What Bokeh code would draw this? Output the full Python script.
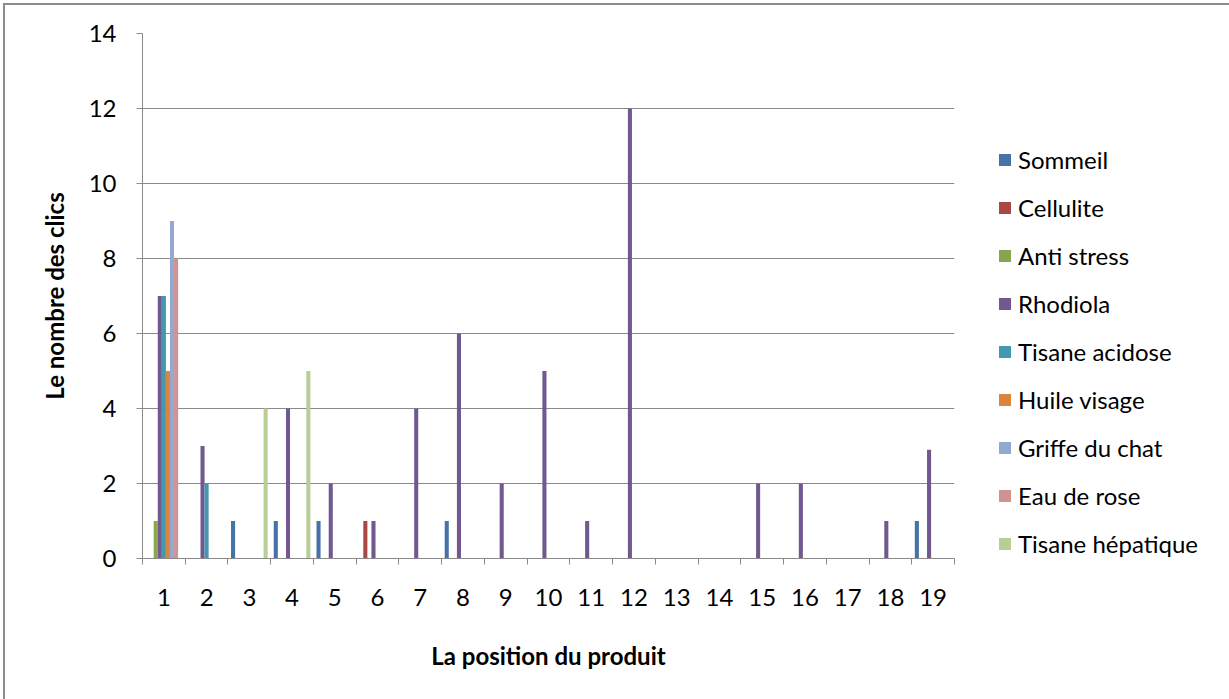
from bokeh.plotting import figure
from bokeh.models import Range1d, FixedTicker, Legend, LegendItem, ColumnDataSource
from bokeh.embed import file_html
from bokeh.resources import INLINE

categories = [str(i) for i in range(1, 20)]
series_names = ["Sommeil", "Cellulite", "Anti stress", "Rhodiola", "Tisane acidose",
                "Huile visage", "Griffe du chat", "Eau de rose", "Tisane hépatique"]
sommeil          = [0, 0, 1, 1, 1, 0, 0, 1, 0, 0, 0, 0, 0, 0, 0, 0, 0, 0, 1]
cellulite        = [0, 0, 0, 0, 0, 1, 0, 0, 0, 0, 0, 0, 0, 0, 0, 0, 0, 0, 0]
anti_stress      = [1, 0, 0, 0, 0, 0, 0, 0, 0, 0, 0, 0, 0, 0, 0, 0, 0, 0, 0]
rhodiola         = [7, 3, 0, 4, 2, 1, 4, 6, 2, 5, 1, 12, 0, 0, 2, 2, 0, 1, 2.9]
tisane_acidose   = [7, 2, 0, 0, 0, 0, 0, 0, 0, 0, 0, 0, 0, 0, 0, 0, 0, 0, 0]
huile_visage     = [5, 0, 0, 0, 0, 0, 0, 0, 0, 0, 0, 0, 0, 0, 0, 0, 0, 0, 0]
griffe_du_chat   = [9, 0, 0, 0, 0, 0, 0, 0, 0, 0, 0, 0, 0, 0, 0, 0, 0, 0, 0]
eau_de_rose      = [8, 0, 0, 0, 0, 0, 0, 0, 0, 0, 0, 0, 0, 0, 0, 0, 0, 0, 0]
tisane_hepatique = [0, 0, 4, 5, 0, 0, 0, 0, 0, 0, 0, 0, 0, 0, 0, 0, 0, 0, 0]
series_values = [sommeil, cellulite, anti_stress, rhodiola, tisane_acidose,
                 huile_visage, griffe_du_chat, eau_de_rose, tisane_hepatique]
colors = ["#4572A7", "#AA4643", "#89A54E", "#71588F", "#4198AF",
          "#DB843D", "#93A9CF", "#D19392", "#B9CD96"]
y_ticks = [0, 2, 4, 6, 8, 10, 12, 14]

FONT = "Lato"
FS = "24px"
GRAY = "#8a8a8a"

p = figure(width=1224, height=694, output_backend="svg", toolbar_location=None,
           x_range=Range1d(0.5, len(categories) + 0.5), y_range=Range1d(0, 14),
           frame_width=812, frame_height=525,
           min_border_left=137, min_border_top=28, min_border_right=275,
           min_border_bottom=141,
           styles={"margin-left": "3px", "margin-top": "3px",
                   "border-left": "2px solid #8c8c8c", "border-top": "2px solid #8c8c8c"})
p.outline_line_color = None
p.xgrid.grid_line_color = None
p.ygrid.grid_line_color = GRAY
p.ygrid.grid_line_width = 1

n = len(series_names)
bw = 1.0 / (n + 1.5)
xs = list(range(1, len(categories) + 1))
items = []
for i, (name, vals, col) in enumerate(zip(series_names, series_values, colors)):
    off = (i - (n - 1) / 2) * bw
    src = ColumnDataSource(dict(x=[x + off for x in xs], top=vals))
    r = p.vbar(x="x", top="top", width=bw, source=src, fill_color=col, line_color=None)
    items.append(LegendItem(label=name, renderers=[r]))

# x axis
xa = p.xaxis[0]
xa.ticker = FixedTicker(ticks=xs, minor_ticks=[x - 0.5 for x in xs] + [xs[-1] + 0.5])
xa.major_label_overrides = {x: c for x, c in zip(xs, categories)}
xa.major_tick_line_color = None
xa.minor_tick_line_color = GRAY
xa.minor_tick_in = 0
xa.minor_tick_out = 6
xa.axis_line_color = GRAY
xa.major_label_standoff = 24
xa.major_label_text_font = FONT
xa.major_label_text_font_size = FS
xa.major_label_text_color = "#000000"
xa.axis_label = "La position du produit"
xa.axis_label_text_font = FONT
xa.axis_label_text_font_size = FS
xa.axis_label_text_font_style = "bold"
xa.axis_label_text_color = "#000000"
xa.axis_label_standoff = 32

# y axis
ya = p.yaxis[0]
ya.ticker = FixedTicker(ticks=y_ticks)
ya.minor_tick_line_color = None
ya.major_tick_line_color = GRAY
ya.major_tick_in = 0
ya.major_tick_out = 6
ya.axis_line_color = GRAY
ya.major_label_standoff = 20
ya.major_label_text_font = FONT
ya.major_label_text_font_size = FS
ya.major_label_text_color = "#000000"
ya.axis_label = "Le nombre des clics"
ya.axis_label_text_font = FONT
ya.axis_label_text_font_size = FS
ya.axis_label_text_font_style = "bold"
ya.axis_label_text_color = "#000000"
ya.axis_label_standoff = 17

legend = Legend(items=items, location=(43, 0), orientation="vertical",
                glyph_width=15, glyph_height=15, label_height=21, spacing=19,
                label_standoff=6, padding=0, margin=0,
                border_line_color=None, background_fill_alpha=0,
                label_text_font=FONT, label_text_font_size=FS,
                label_text_color="#000000")
p.add_layout(legend, "right")

open("out.html", "w").write(file_html(p, INLINE))
